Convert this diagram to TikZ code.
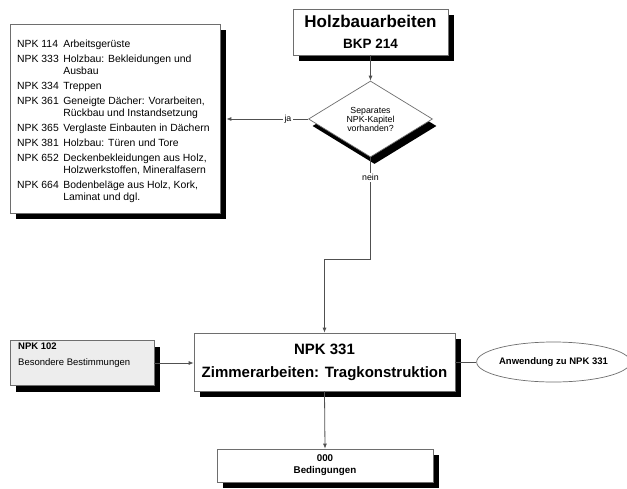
\documentclass[tikz,border=0pt]{standalone}
\usepackage{fontspec}
\setmainfont{Liberation Sans}
\usetikzlibrary{shapes.geometric,shadows,arrows.meta}
\definecolor{boxgray}{HTML}{6E6E6E}
\definecolor{linegray}{HTML}{505050}
\definecolor{boxfill}{HTML}{EDEDED}
\begin{document}
\begin{tikzpicture}[x=1pt,y=-1pt,
  box/.style={draw=boxgray, line width=0.7pt, fill=white, inner sep=0pt},
  shad/.style={drop shadow={shadow xshift=6pt,shadow yshift=-6pt,opacity=1,fill=black}},
  conn/.style={draw=linegray, line width=0.8pt},
  arr/.style={conn, -{Latex[length=5pt,width=4pt]}},
  lbl/.style={font=\fontsize{8.8}{9.5}\selectfont, fill=white, inner sep=1.5pt}]
\useasboundingbox (0,0) rectangle (627,488);
\fill[white] (0,0) rectangle (627,488);

% top box
\node[box, shad, minimum width=155pt, minimum height=46pt, align=center,
      font=\fontsize{17}{21}\selectfont\bfseries] (top) at (370.5,32)
  {Holzbauarbeiten\\\fontsize{13.5}{21}\selectfont BKP 214};

% decision diamond
\node[diamond, draw=boxgray, line width=0.7pt, fill=white, aspect=1.63,
      minimum width=124pt, minimum height=76pt, inner sep=0pt, align=center,
      font=\fontsize{8.8}{9}\selectfont,
      drop shadow={shadow xshift=4pt,shadow yshift=-7pt,opacity=1,fill=black}] (dia) at (370.5,119)
  {Separates\\NPK-Kapitel\\vorhanden?};

\draw[arr] (top.south) -- (dia.north);

% left list box
\node[box, shad, minimum width=210pt, minimum height=189pt] (listbox) at (115,118.5) {};
\node[anchor=base west, inner sep=0pt, font=\fontsize{10.4}{12}\selectfont] (list) at (17,47.5)
{\begin{tabular}[t]{@{}l@{\hspace{4.5pt}}l@{}}
NPK 114 & Arbeitsgerüste\\[3pt]
NPK 333 & Holzbau: Bekleidungen und\\
        & Ausbau\\[3pt]
NPK 334 & Treppen\\[3pt]
NPK 361 & Geneigte Dächer: Vorarbeiten,\\
        & Rückbau und Instandsetzung\\[3pt]
NPK 365 & Verglaste Einbauten in Dächern\\[3pt]
NPK 381 & Holzbau: Türen und Tore\\[3pt]
NPK 652 & Deckenbekleidungen aus Holz,\\
        & Holzwerkstoffen, Mineralfasern\\[3pt]
NPK 664 & Bodenbeläge aus Holz, Kork,\\
        & Laminat und dgl.
\end{tabular}};

\draw[arr, shorten >=6pt] (dia.west) -- node[lbl, pos=0.23]{ja} (dia.west -| listbox.east);

% main box
\node[box, shad, minimum width=261pt, minimum height=58pt, align=center,
      font=\fontsize{15}{23}\selectfont\bfseries] (main) at (324.5,362)
  {NPK 331\\Zimmerarbeiten: Tragkonstruktion};

\coordinate (bend) at (370.5,259);
\draw[arr] (dia.south) -- node[lbl, pos=0.2]{nein} (bend) -| (main.north);

% NPK 102
\node[box, shad, fill=boxfill, minimum width=144pt, minimum height=45pt] (npk102) at (82,363) {};
\node[anchor=west, inner sep=0pt, align=left, font=\fontsize{9.5}{16}\selectfont] (npk102t) at (18,355)
  {\textbf{NPK 102}\\Besondere Bestimmungen};
\draw[arr] (npk102.east) -- (npk102.east -| main.west);

% ellipse
\node[ellipse, draw=boxgray, line width=0.7pt, fill=white, minimum width=143pt, minimum height=40pt,
      inner sep=0pt, font=\fontsize{9.5}{11}\selectfont\bfseries] (anw) at (553.5,362)
  {Anwendung zu NPK 331};
\draw[conn] (main.east) -- (main.east -| anw.west);

% bottom box
\node[box, shad, minimum width=216pt, minimum height=33pt, align=center,
      font=\fontsize{9.8}{12}\selectfont\bfseries] (bed) at (325,465.5)
  {000\\Bedingungen};
\draw[arr] (main.south) -- (bed.north);
\end{tikzpicture}
\end{document}
